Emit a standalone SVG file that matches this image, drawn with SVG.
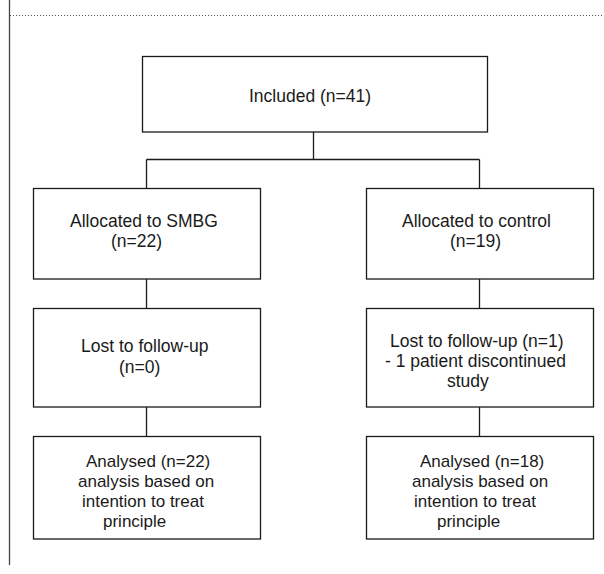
<svg xmlns="http://www.w3.org/2000/svg" width="604" height="574" viewBox="0 0 604 574">
<style>
.box{fill:#fff;stroke:#1a1a1a;stroke-width:1.3}
.ln{stroke:#1a1a1a;stroke-width:1.3;fill:none}
text{font-family:"Liberation Sans","Open Sans",sans-serif;font-size:17.5px;fill:#1a1a1a}
.sm{font-size:17px}
</style>
<rect width="604" height="574" fill="#fff"/>
<g id="frame">
<line x1="9.5" y1="0" x2="9.5" y2="565" stroke="#444" stroke-width="1.3"/>
<line x1="10" y1="15.5" x2="604" y2="15.5" stroke="#555" stroke-width="1" stroke-dasharray="1,2"/>
</g>
<g id="connectors">
<line class="ln" x1="313.5" y1="132" x2="313.5" y2="159.5"/>
<line class="ln" x1="146.5" y1="159.5" x2="479.5" y2="159.5"/>
<line class="ln" x1="146.5" y1="159.5" x2="146.5" y2="188"/>
<line class="ln" x1="479.5" y1="159.5" x2="479.5" y2="188"/>
<line class="ln" x1="146.5" y1="279" x2="146.5" y2="308"/>
<line class="ln" x1="479.5" y1="279" x2="479.5" y2="308"/>
<line class="ln" x1="146.5" y1="407" x2="146.5" y2="436"/>
<line class="ln" x1="479.5" y1="407" x2="479.5" y2="436"/>
</g>
<g id="included">
<rect class="box" x="142.5" y="56.5" width="345" height="75.5"/>
<text x="249" y="102">Included (n=41)</text>
</g>
<g id="alloc-smbg">
<rect class="box" x="33.5" y="188.5" width="227" height="90.5"/>
<text x="70" y="227">Allocated to SMBG</text>
<text x="111" y="247">(n=22)</text>
</g>
<g id="alloc-control">
<rect class="box" x="366.5" y="188.5" width="227" height="90.5"/>
<text x="402" y="227">Allocated to control</text>
<text x="450" y="247">(n=19)</text>
</g>
<g id="lost-smbg">
<rect class="box" x="33.5" y="308.5" width="227" height="98.5"/>
<text x="81" y="352">Lost to follow-up</text>
<text x="119" y="373">(n=0)</text>
</g>
<g id="lost-control">
<rect class="box" x="366.5" y="308.5" width="227" height="98.5"/>
<text x="390" y="347">Lost to follow-up (n=1)</text>
<text x="385" y="367">- 1 patient discontinued</text>
<text x="447" y="387">study</text>
</g>
<g id="analysed-smbg">
<rect class="box" x="33.5" y="436.5" width="227" height="102.5"/>
<text class="sm" x="86" y="467">Analysed (n=22)</text>
<text class="sm" x="78" y="487">analysis based on</text>
<text class="sm" x="82" y="507">intention to treat</text>
<text class="sm" x="103" y="527">principle</text>
</g>
<g id="analysed-control">
<rect class="box" x="366.5" y="436.5" width="227" height="102.5"/>
<text class="sm" x="420" y="467">Analysed (n=18)</text>
<text class="sm" x="412" y="487">analysis based on</text>
<text class="sm" x="414" y="507">intention to treat</text>
<text class="sm" x="437" y="527">principle</text>
</g>
</svg>
